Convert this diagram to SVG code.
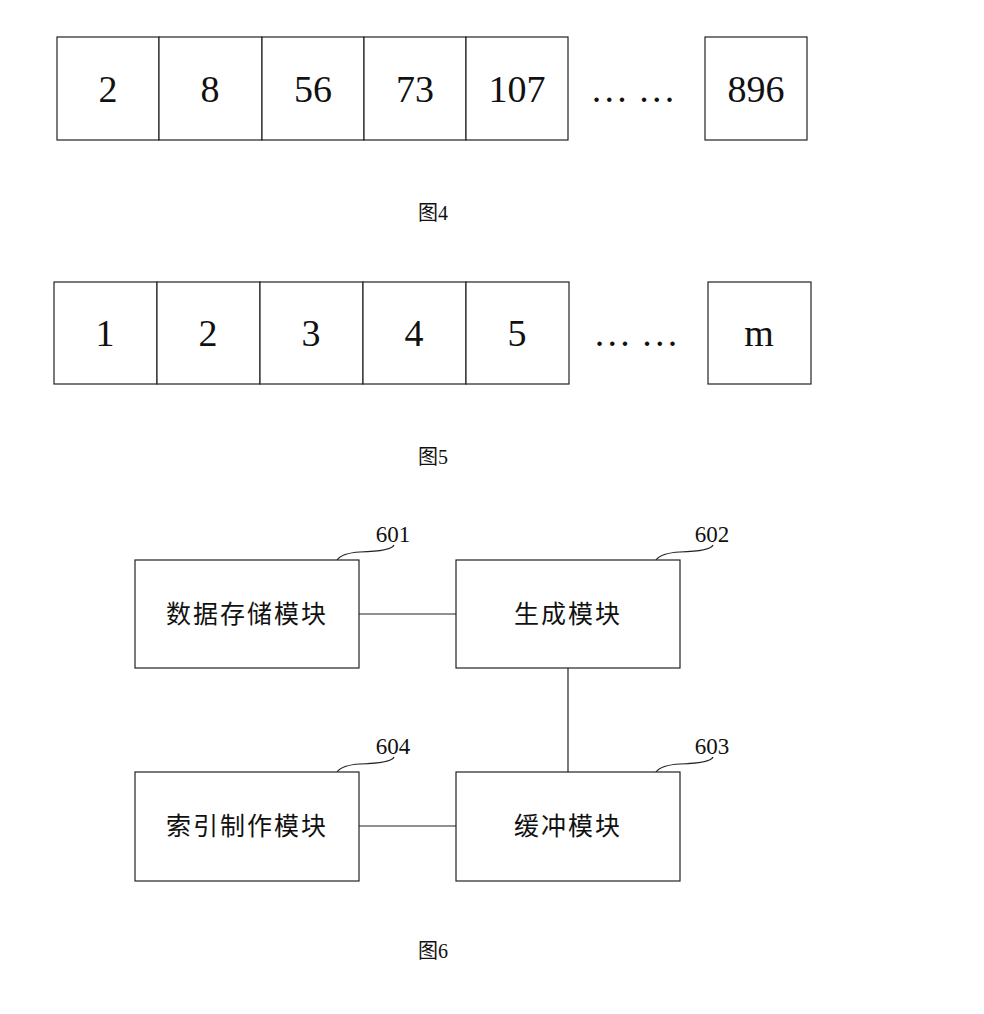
<svg xmlns="http://www.w3.org/2000/svg" width="984" height="1014" viewBox="0 0 984 1014">
<style>
.c{fill:#fff;stroke:#222;stroke-width:1.2}
.n{font-family:"Liberation Serif",serif;font-size:38px;text-anchor:middle;fill:#111}
.cap{font-family:"Liberation Serif","Noto Sans CJK SC",serif;font-size:20px;text-anchor:middle;fill:#111}
.lb{font-family:"Liberation Serif",serif;font-size:23px;text-anchor:middle;fill:#111}
.m{font-family:"Noto Sans CJK SC",sans-serif;font-size:25px;text-anchor:middle;fill:#111;letter-spacing:2px}
.l{stroke:#222;stroke-width:1.2;fill:none}
</style>
<rect width="984" height="1014" fill="#fff"/>
<g id="fig4">
<rect class="c" x="57" y="37" width="102" height="103"/><text class="n" x="108" y="102">2</text>
<rect class="c" x="159" y="37" width="103" height="103"/><text class="n" x="210" y="102">8</text>
<rect class="c" x="262" y="37" width="102" height="103"/><text class="n" x="313" y="102">56</text>
<rect class="c" x="364" y="37" width="102" height="103"/><text class="n" x="415" y="102">73</text>
<rect class="c" x="466" y="37" width="102" height="103"/><text class="n" x="517" y="102">107</text>
<text class="n" x="633" y="102">… …</text>
<rect class="c" x="705" y="37" width="102" height="103"/><text class="n" x="756" y="102">896</text>
<text class="cap" x="433" y="220">图4</text>
</g>
<g id="fig5">
<rect class="c" x="54" y="282" width="103" height="102"/><text class="n" x="105" y="346">1</text>
<rect class="c" x="157" y="282" width="103" height="102"/><text class="n" x="208" y="346">2</text>
<rect class="c" x="260" y="282" width="103" height="102"/><text class="n" x="311" y="346">3</text>
<rect class="c" x="363" y="282" width="103" height="102"/><text class="n" x="414" y="346">4</text>
<rect class="c" x="466" y="282" width="103" height="102"/><text class="n" x="517" y="346">5</text>
<text class="n" x="636" y="346">… …</text>
<rect class="c" x="708" y="282" width="103" height="102"/><text class="n" x="759" y="346">m</text>
<text class="cap" x="433" y="464">图5</text>
</g>
<g id="connectors">
<line class="l" x1="359" y1="614" x2="456" y2="614"/>
<line class="l" x1="568" y1="668" x2="568" y2="772"/>
<line class="l" x1="359" y1="826" x2="456" y2="826"/>
<path class="l" d="M337 560 Q342 553 360 552 Q392 551 394 545"/>
<path class="l" d="M656 560 Q661 553 680 552 Q711 551 713 545"/>
<path class="l" d="M337 772 Q342 765 360 764 Q392 763 394 757"/>
<path class="l" d="M656 772 Q661 765 680 764 Q711 763 713 757"/>
</g>
<g id="n601"><rect class="c" x="135" y="560" width="224" height="108"/><text class="m" x="247" y="623">数据存储模块</text><text class="lb" x="393" y="542">601</text></g>
<g id="n602"><rect class="c" x="456" y="560" width="224" height="108"/><text class="m" x="568" y="623">生成模块</text><text class="lb" x="712" y="542">602</text></g>
<g id="n603"><rect class="c" x="456" y="772" width="224" height="109"/><text class="m" x="568" y="835">缓冲模块</text><text class="lb" x="712" y="754">603</text></g>
<g id="n604"><rect class="c" x="135" y="772" width="224" height="109"/><text class="m" x="247" y="835">索引制作模块</text><text class="lb" x="393" y="754">604</text></g>
<text class="cap" x="433" y="958">图6</text>
</svg>
